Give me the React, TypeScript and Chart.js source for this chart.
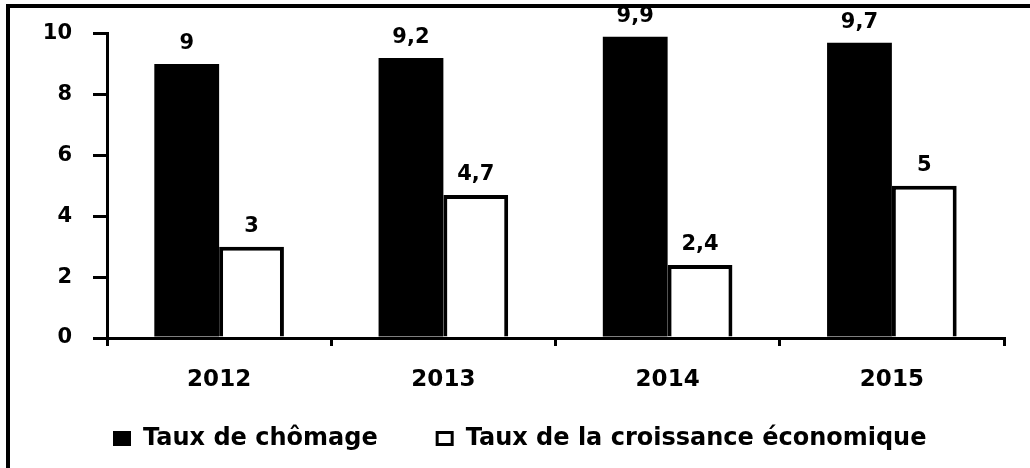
import React, { useEffect, useRef } from "react";
import { Chart, registerables } from "chart.js";

Chart.register(...registerables);

const categories = ["2012", "2013", "2014", "2015"];
const chomage = [9, 9.2, 9.9, 9.7];
const croissance = [3, 4.7, 2.4, 5];
const seriesNames = ["Taux de chômage", "Taux de la croissance économique"];
const yMin = 0;
const yMax = 10;
const yStep = 2;

const FONT = '"DejaVu Sans", "Liberation Sans", sans-serif';

function fmt(v: number): string {
  return String(v).replace(".", ",");
}

export default function App() {
  const ref = useRef<HTMLCanvasElement>(null);

  useEffect(() => {
    if (!ref.current) return;

    const framePlugin = {
      id: "frame",
      beforeDraw(chart: any) {
        const ctx = chart.ctx;
        ctx.save();
        ctx.fillStyle = "#ffffff";
        ctx.fillRect(0, 0, chart.width, chart.height);
        ctx.strokeStyle = "#000000";
        ctx.lineWidth = 4;
        ctx.strokeRect(8, 6, 1400, 900);
        ctx.restore();
      },
    };

    const valueLabels = {
      id: "valueLabels",
      afterDatasetsDraw(chart: any) {
        const ctx = chart.ctx;
        ctx.save();
        ctx.fillStyle = "#000";
        ctx.font = `bold 21px ${FONT}`;
        ctx.textAlign = "center";
        ctx.textBaseline = "alphabetic";
        chart.data.datasets.forEach((ds: any, di: number) => {
          const meta = chart.getDatasetMeta(di);
          meta.data.forEach((el: any, i: number) => {
            ctx.fillText(fmt(ds.data[i]), el.x, el.y - 15);
          });
        });
        ctx.restore();
      },
    };

    const customLegend = {
      id: "customLegend",
      afterDraw(chart: any) {
        const ctx = chart.ctx;
        ctx.save();
        ctx.font = `bold 24px ${FONT}`;
        ctx.textBaseline = "middle";
        ctx.textAlign = "left";
        let x = 113;
        const boxTop = 431;
        const boxW = 18;
        const boxH = 15;
        chart.data.datasets.forEach((ds: any) => {
          if (ds.backgroundColor === "#ffffff") {
            ctx.fillStyle = "#ffffff";
            ctx.fillRect(x, boxTop, boxW, boxH);
            ctx.strokeStyle = "#000";
            ctx.lineWidth = 3;
            ctx.strokeRect(x + 1.5, boxTop + 1.5, boxW - 3, boxH - 3);
          } else {
            ctx.fillStyle = ds.backgroundColor;
            ctx.fillRect(x, boxTop, boxW, boxH);
          }
          ctx.fillStyle = "#000";
          const tx = x + boxW + 12;
          ctx.fillText(ds.label, tx, 439);
          x = tx + ctx.measureText(ds.label).width + 58;
        });
        ctx.restore();
      },
    };

    const chart = new Chart(ref.current, {
      type: "bar",
      data: {
        labels: categories,
        datasets: [
          {
            label: seriesNames[0],
            data: chomage,
            backgroundColor: "#000000",
            borderColor: "#000000",
            borderWidth: 0,
            categoryPercentage: 0.578,
            barPercentage: 1,
          },
          {
            label: seriesNames[1],
            data: croissance,
            backgroundColor: "#ffffff",
            borderColor: "#000000",
            borderWidth: 4,
            borderSkipped: "bottom",
            categoryPercentage: 0.578,
            barPercentage: 1,
          },
        ],
      },
      options: {
        responsive: false,
        maintainAspectRatio: false,
        animation: false,
        layout: { padding: { left: 0, right: 26, top: 33, bottom: 0 } },
        plugins: {
          legend: { display: false },
          title: { display: false },
          tooltip: { enabled: false },
        },
        scales: {
          x: {
            offset: true,
            grid: {
              offset: true,
              drawOnChartArea: false,
              drawTicks: true,
              tickLength: 8,
              color: "#000",
              lineWidth: 3,
            },
            border: { display: true, color: "#000", width: 3 },
            ticks: {
              color: "#000",
              padding: 20,
              font: { family: FONT, size: 23, weight: "bold" },
            },
            afterFit(scale: any) {
              scale.height = 130;
            },
          },
          y: {
            min: yMin,
            max: yMax,
            grid: {
              drawOnChartArea: false,
              drawTicks: true,
              tickLength: 14,
              color: "#000",
              lineWidth: 3,
            },
            border: { display: true, color: "#000", width: 3 },
            ticks: {
              stepSize: yStep,
              color: "#000",
              padding: 21,
              font: { family: FONT, size: 21, weight: "bold" },
            },
            afterFit(scale: any) {
              scale.width = 107;
            },
          },
        },
      },
      plugins: [framePlugin, valueLabels, customLegend],
    } as any);

    return () => chart.destroy();
  }, []);

  return (
    <div style={{ position: "fixed", left: 0, top: 0, width: 1030, height: 468, background: "#fff" }}>
      <canvas ref={ref} width={1030} height={468} style={{ display: "block" }} />
    </div>
  );
}
